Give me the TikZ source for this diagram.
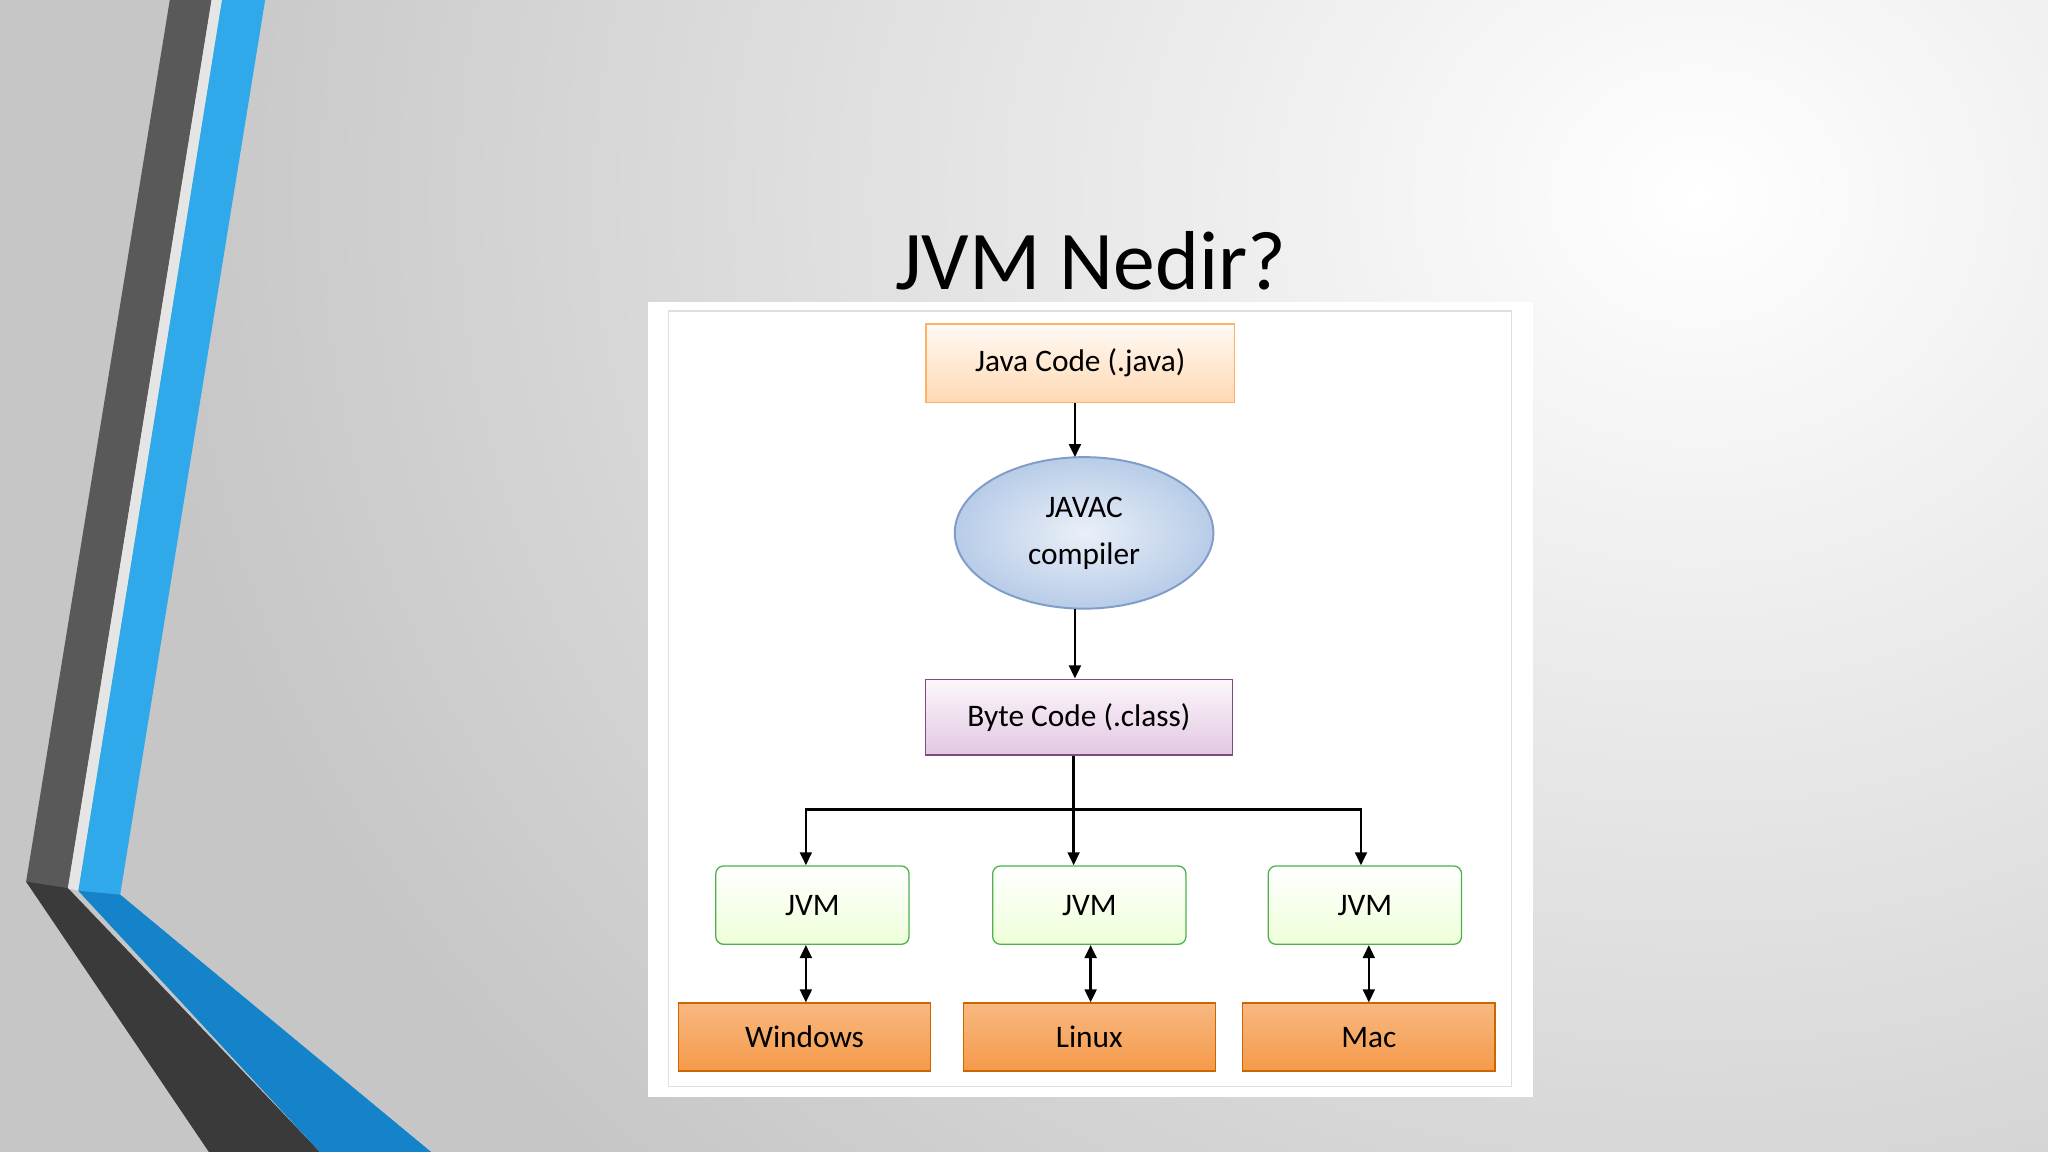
\documentclass[tikz,border=0pt]{standalone}
\usepackage{fontspec}
\setmainfont{Carlito}
\usetikzlibrary{shapes.geometric,arrows.meta}
\definecolor{bluestripe}{HTML}{2FA9EA}
\definecolor{bluedark}{HTML}{1483C9}
\definecolor{ellfill}{HTML}{B8CCE8}
\definecolor{ellline}{HTML}{7F9DC8}
\definecolor{orfill}{HTML}{F59A4A}
\begin{document}
\begin{tikzpicture}[x=1pt,y=-1pt,
  box/.style={draw=#1,line width=1pt,font=\fontsize{24}{27}\selectfont},
  arr/.style={-{Triangle[length=10pt,width=9pt]},line width=2pt},
  darr/.style={{Triangle[length=10pt,width=9pt]}-{Triangle[length=10pt,width=9pt]},line width=2pt}]
\useasboundingbox (0,0) rectangle (1568,882);
\fill[gray!45] (0,0) rectangle (1568,882);
\shade[inner color=white,outer color=gray!45] (100,-900) rectangle (2500,1200);
% decorations
\fill[black!65] (130,0)--(162,0)--(52,680)--(245,882)--(160,882)--(20,675)--cycle;
\fill[black!85,opacity=0.6] (20,675)--(52,680)--(245,882)--(160,882)--cycle;
\fill[gray!20] (162,0)--(170,0)--(60,682)--(52,680)--cycle;
\fill[bluestripe] (170,0)--(203,0)--(92,685)--(330,882)--(245,882)--(60,682)--cycle;
\fill[bluedark] (60,682)--(92,685)--(330,882)--(245,882)--cycle;
% title
\node[font=\fontsize{64}{70}\selectfont] (title) at (835,200) {JVM Nedir?};
% panel
\fill[white] (496,231) rectangle (1174,840);
\draw[gray!25,line width=1pt] (512,238) rectangle (1157,832);
% nodes
\node[box=orange!60,top color=orange!4,bottom color=orange!30,minimum width=236pt,minimum height=60pt] (java) at (827,278) {Java Code (.java)};
\node[draw=ellline,line width=1.5pt,ellipse,inner color=ellfill!30,outer color=ellfill,minimum width=198pt,minimum height=116pt,align=center,font=\fontsize{24}{36}\selectfont] (javac) at (830,408) {JAVAC\\compiler};
\node[box=violet!40!gray,top color=violet!3,bottom color=violet!22,minimum width=235pt,minimum height=58pt] (byte) at (826,549) {Byte Code (.class)};
\foreach \n/\x in {j1/622,j2/834,j3/1045}
  \node[box=green!40!gray,rounded corners=6pt,top color=white,bottom color=green!25!lime!15,minimum width=148pt,minimum height=60pt] (\n) at (\x,693) {JVM};
\foreach \n/\x/\t in {o1/616/Windows,o2/834/Linux,o3/1048/Mac}
  \node[box=orange!80!black,top color=orfill!70,bottom color=orfill,minimum width=193pt,minimum height=52pt] (\n) at (\x,794) {\t};
% connectors
\draw[arr] (java.south -| 823,0) -- (823,350);
\draw[arr] (823,466) -- (byte.north -| 823,0);
\coordinate (hb) at (822,620);
\draw[line width=2pt] (byte.south -| 822,0) -- (hb);
\draw[line width=2pt] (617,620) -- (1042,620);
\draw[arr] (617,619) -- (j1.north -| 617,0);
\draw[arr] (hb) -- (j2.north -| 822,0);
\draw[arr] (1042,619) -- (j3.north -| 1042,0);
\draw[darr] (j1.south -| 617,0) -- (o1.north -| 617,0);
\draw[darr] (j2.south -| 835,0) -- (o2.north -| 835,0);
\draw[darr] (j3.south -| 1048,0) -- (o3.north -| 1048,0);
\end{tikzpicture}
\end{document}
